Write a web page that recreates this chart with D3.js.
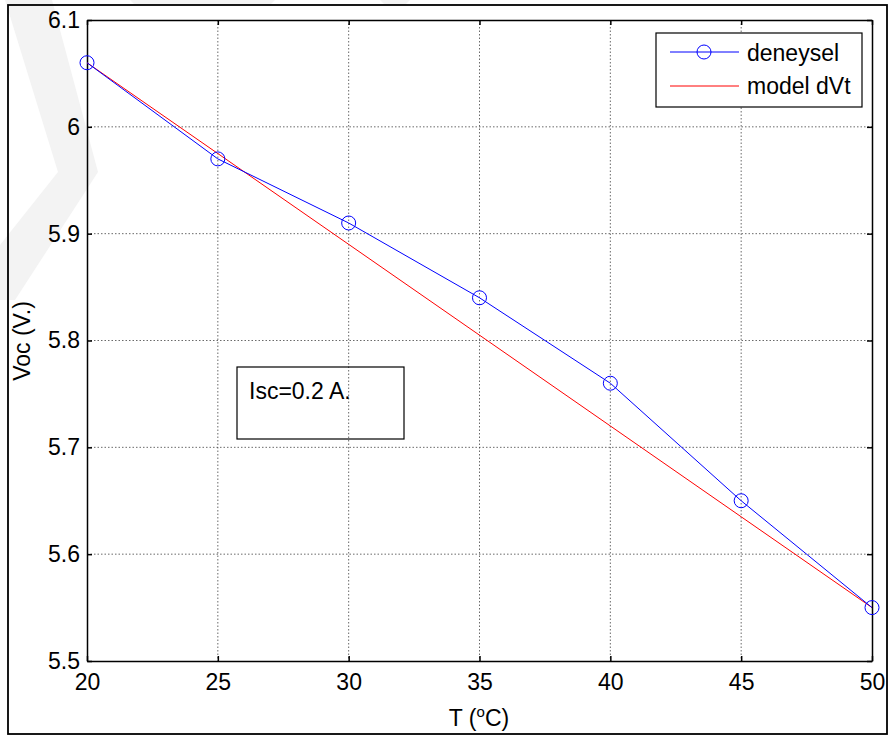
<!DOCTYPE html>
<meta charset="utf-8">
<style>
  body { margin: 0; background: #fff; }
  text { font-family: "Liberation Sans", Arial, sans-serif; font-size: 23px; fill: #000; }
  .grid line { stroke: #444; stroke-width: 0.8px; stroke-dasharray: 1.5,2; }
</style>
<svg width="891" height="736"></svg>
<script src="https://d3js.org/d3.v7.min.js"></script>
<script>
  // data
  var temps = [20, 25, 30, 35, 40, 45, 50];
  var deneysel = [6.06, 5.97, 5.91, 5.84, 5.76, 5.65, 5.55];
  var modelDVt = [6.06, 5.975, 5.89, 5.805, 5.72, 5.635, 5.55];
  var xTicks = [20, 25, 30, 35, 40, 45, 50];
  var yTicks = [5.5, 5.6, 5.7, 5.8, 5.9, 6.0, 6.1];

  var svg = d3.select("svg");
  var margin = { top: 20, right: 19, bottom: 75, left: 87 },
    width = 891 - margin.left - margin.right,
    height = 736 - margin.top - margin.bottom;

  // faint watermark chevron in the top left
  var wm = svg.append("g").attr("fill", "#f3f3f3");
  wm.append("polygon").attr("points", "5,0 52,0 98,172 15,300 0,300 0,245 58,172");
  wm.append("polygon").attr("points", "130,0 275,0 270,5 135,5");
  wm.append("polygon").attr("points", "380,0 410,0 405,5 385,5");

  // outer frame
  svg.append("rect").attr("x", 8).attr("y", 5).attr("width", 879).attr("height", 729)
    .attr("fill", "none").attr("stroke", "#000").attr("stroke-width", 1.8);

  var g = svg.append("g").attr("transform", "translate(" + margin.left + "," + margin.top + ")");

  var x = d3.scaleLinear().domain([20, 50]).range([0, width]);
  var y = d3.scaleLinear().domain([5.5, 6.1]).range([height, 0]);

  // grid
  g.append("g").attr("class", "grid")
    .selectAll("line").data(xTicks.slice(1, -1)).join("line")
    .attr("x1", d => x(d)).attr("x2", d => x(d)).attr("y1", 0).attr("y2", height);
  g.append("g").attr("class", "grid")
    .selectAll("line").data(yTicks.slice(1, -1)).join("line")
    .attr("y1", d => y(d)).attr("y2", d => y(d)).attr("x1", 0).attr("x2", width);

  // axes, ticks inward
  var fmtY = d => d === 6 ? "6" : d3.format(".1f")(d);
  g.append("g").attr("transform", "translate(0," + height + ")")
    .call(d3.axisBottom(x).tickValues(xTicks).tickSizeInner(-5).tickSizeOuter(0).tickPadding(13))
    .call(a => a.select(".domain").attr("stroke-width", 1.5));
  g.append("g")
    .call(d3.axisLeft(y).tickValues(yTicks).tickFormat(fmtY).tickSizeInner(-5).tickSizeOuter(0).tickPadding(7))
    .call(a => a.select(".domain").attr("stroke-width", 1.5));
  g.append("g")
    .call(d3.axisTop(x).tickValues(xTicks).tickSizeInner(-5).tickSizeOuter(0).tickFormat(""))
    .call(a => a.select(".domain").attr("stroke-width", 1.5));
  g.append("g").attr("transform", "translate(" + width + ",0)")
    .call(d3.axisRight(y).tickValues(yTicks).tickSizeInner(-5).tickSizeOuter(0).tickFormat(""))
    .call(a => a.select(".domain").attr("stroke-width", 1.5));
  g.selectAll(".tick text").style("font-size", "23px").attr("fill", "#000")
    .style("font-family", "'Liberation Sans', Arial, sans-serif");
  g.selectAll(".tick line").attr("stroke-width", 1.5);

  // lines
  var line = d3.line().x(d => x(d[0])).y(d => y(d[1]));
  g.append("path").datum(temps.map((t, i) => [t, modelDVt[i]]))
    .attr("fill", "none").attr("stroke", "#ff0000").attr("stroke-width", 1).attr("d", line);
  g.append("path").datum(temps.map((t, i) => [t, deneysel[i]]))
    .attr("fill", "none").attr("stroke", "#0000ff").attr("stroke-width", 1).attr("d", line);
  g.selectAll("circle.pt").data(temps.map((t, i) => [t, deneysel[i]])).join("circle")
    .attr("class", "pt").attr("cx", d => x(d[0])).attr("cy", d => y(d[1])).attr("r", 7)
    .attr("fill", "none").attr("stroke", "#0000ff").attr("stroke-width", 1);

  // axis labels
  var xl = svg.append("text").attr("x", 479).attr("y", 726).attr("text-anchor", "middle");
  xl.append("tspan").text("T (");
  xl.append("tspan").attr("dy", -9).style("font-size", "15px").text("o");
  xl.append("tspan").attr("dy", 9).text("C)");
  svg.append("text").attr("transform", "translate(30,341) rotate(-90)")
    .attr("text-anchor", "middle").text("Voc (V.)");

  // legend
  var lg = svg.append("g");
  lg.append("rect").attr("x", 656).attr("y", 33).attr("width", 206).attr("height", 74)
    .attr("fill", "#fff").attr("stroke", "#000").attr("stroke-width", 1.2);
  lg.append("line").attr("x1", 670).attr("x2", 739).attr("y1", 52).attr("y2", 52).attr("stroke", "#0000ff");
  lg.append("circle").attr("cx", 704).attr("cy", 52).attr("r", 7).attr("fill", "none").attr("stroke", "#0000ff");
  lg.append("text").attr("x", 747).attr("y", 61).text("deneysel");
  lg.append("line").attr("x1", 670).attr("x2", 739).attr("y1", 86).attr("y2", 86).attr("stroke", "#ff0000");
  lg.append("text").attr("x", 747).attr("y", 94).text("model dVt");

  // annotation box
  svg.append("rect").attr("x", 237).attr("y", 367).attr("width", 167).attr("height", 72)
    .attr("fill", "none").attr("stroke", "#000").attr("stroke-width", 1.2);
  svg.append("text").attr("x", 249).attr("y", 399).text("Isc=0.2 A.");
</script>
